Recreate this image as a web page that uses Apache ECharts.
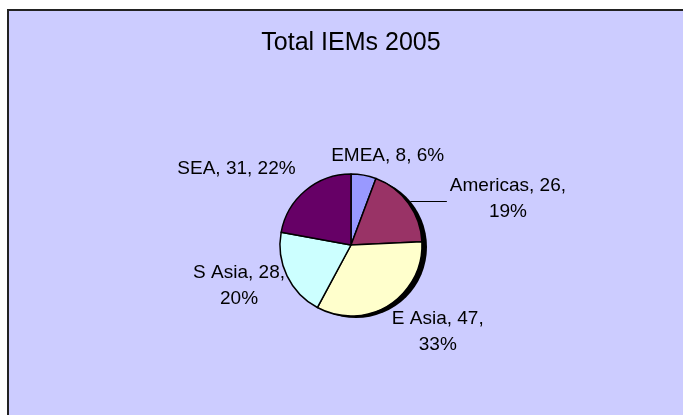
<!DOCTYPE html>
<html>
<head>
<meta charset="utf-8">
<script src="https://cdn.jsdelivr.net/npm/echarts@6/dist/echarts.min.js"></script>
<style>
html, body {
    margin: 0;
    padding: 0;
    background: #ffffff;
    width: 683px;
    height: 415px;
    overflow: hidden;
}
#chart {
    position: absolute;
    left: 7px;
    top: 9px;
    width: 700px;
    height: 420px;
    box-sizing: border-box;
    border-left: 2px solid #222;
    border-top: 2px solid #222;
    background: #ccccff;
}
</style>
</head>
<body>
<div id="chart"></div>
<script>
// data
const regions = ['EMEA', 'Americas', 'E Asia', 'S Asia', 'SEA'];
const iems = [8, 26, 47, 28, 31];
const percents = [6, 19, 33, 20, 22];
const twoLine = ['Americas', 'E Asia', 'S Asia'];

const colors = ['#9999ff', '#993366', '#ffffcc', '#ccffff', '#660066'];
// label nudges, index matches regions (null = keep next to its leader line)
const nudge = [[19, -19], null, [44, 27], [-43, 10], [-64, -22]];

const myChart = echarts.init(document.getElementById('chart'));

const pieData = regions.map(function (name, i) {
    const item = {
        name: name,
        value: iems[i],
        itemStyle: { color: colors[i] }
    };
    if (name === 'Americas') {
        item.labelLine = { show: true, length: 3, length2: 36 };
    }
    return item;
});

const option = {
    animation: false,
    title: {
        text: 'Total IEMs 2005',
        left: 337,
        textAlign: 'center',
        top: 15,
        textStyle: {
            fontFamily: 'Liberation Sans',
            fontSize: 25,
            fontWeight: 'normal',
            color: '#000'
        }
    },
    series: [
        {
            // drop shadow under the pie
            type: 'pie',
            silent: true,
            center: [347, 236],
            radius: 71,
            label: { show: false },
            labelLine: { show: false },
            itemStyle: { color: '#000', borderWidth: 0 },
            data: [{ name: 'shadow', value: 1 }],
            z: 1
        },
        {
            type: 'pie',
            silent: true,
            center: [342, 234],
            radius: 71,
            startAngle: 90,
            clockwise: true,
            avoidLabelOverlap: false,
            z: 2,
            itemStyle: {
                borderColor: '#000',
                borderWidth: 1.5
            },
            label: {
                show: true,
                position: 'outside',
                fontFamily: 'Liberation Sans',
                fontSize: 19,
                lineHeight: 26,
                color: '#000',
                formatter: function (p) {
                    const i = p.dataIndex;
                    const sep = twoLine.indexOf(p.name) >= 0 ? ',\n' : ', ';
                    return p.name + ', ' + p.value + sep + percents[i] + '%';
                }
            },
            labelLine: {
                show: false,
                length: 0,
                length2: 0,
                lineStyle: { color: '#000', width: 1 }
            },
            labelLayout: function (params) {
                const n = nudge[params.dataIndex];
                if (!n) {
                    return {
                        align: 'center',
                        verticalAlign: 'middle',
                        dx: params.labelRect.width / 2 - 2,
                        dy: -3
                    };
                }
                return {
                    align: 'center',
                    verticalAlign: 'middle',
                    dx: n[0],
                    dy: n[1]
                };
            },
            data: pieData
        }
    ]
};

myChart.setOption(option);
</script>
</body>
</html>
